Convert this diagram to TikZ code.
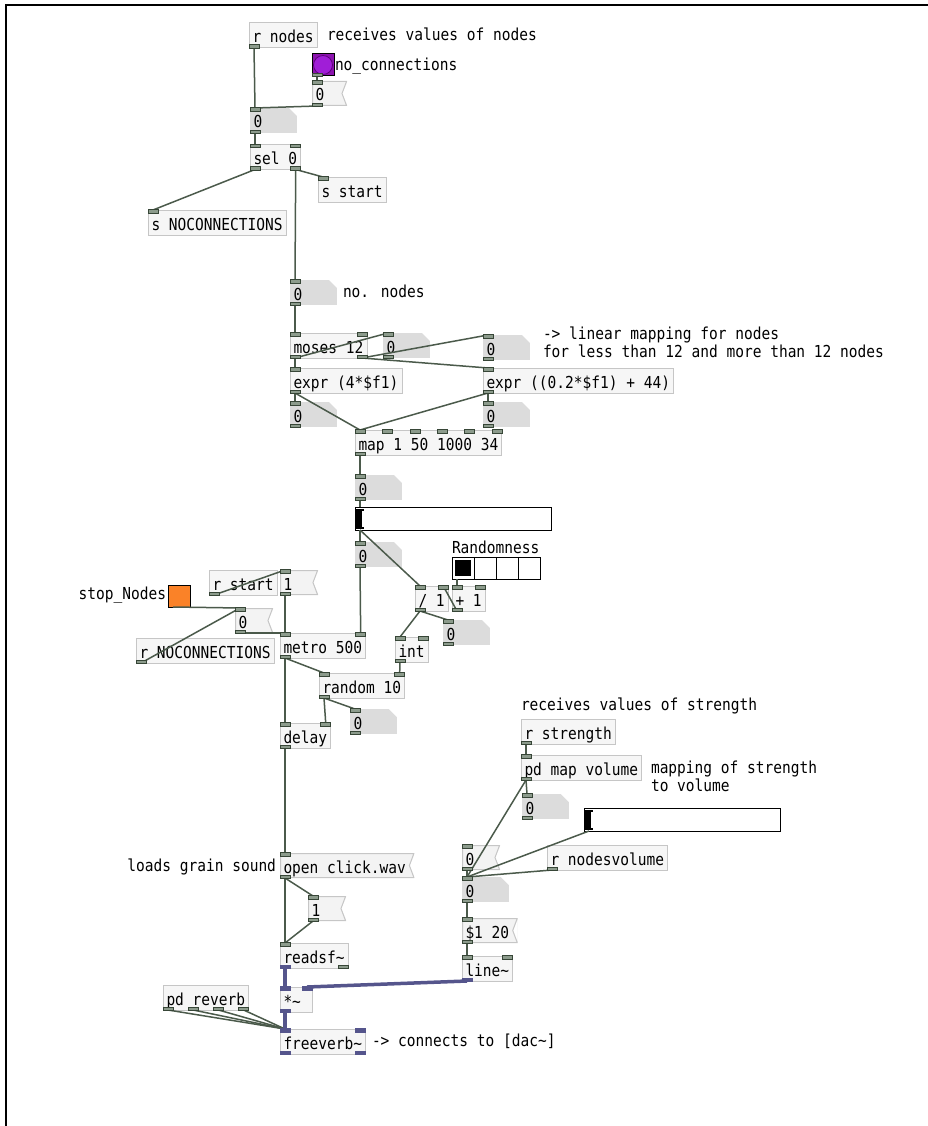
\documentclass[tikz,border=0pt]{standalone}
\usepackage{fontspec}
\newfontfamily\pdfont[FakeStretch=0.88]{DejaVu Sans Mono}
\newcommand{\pdsize}{\pdfont\fontsize{16.5pt}{18pt}\selectfont}
\definecolor{objfill}{RGB}{246,246,246}
\definecolor{objline}{RGB}{198,198,198}
\definecolor{msgfill}{RGB}{243,243,243}
\definecolor{atomfill}{RGB}{220,220,220}
\definecolor{portline}{RGB}{55,70,55}
\definecolor{portfill}{RGB}{140,155,140}
\definecolor{wireline}{RGB}{75,90,75}
\definecolor{sigline}{RGB}{85,85,140}
\definecolor{bngfill}{RGB}{140,20,175}
\definecolor{bngdot}{RGB}{160,30,215}
\definecolor{bngring}{RGB}{95,0,125}
\definecolor{stoporange}{RGB}{250,130,40}

\begin{document}
\begin{tikzpicture}[x=1pt,y=-1pt,
    obj/.style={draw=objline,fill=objfill,line width=0.8pt,inner xsep=3.5pt,inner ysep=0pt,outer sep=0pt,
      text height=20pt,text depth=5pt,anchor=north west,font=\pdsize},
    msg/.style={obj,draw=none,fill=msgfill,align=left,execute at end node={\hspace*{5pt}},
      path picture={
        \fill[white] ([xshift=1pt]path picture bounding box.north east) -- ([xshift=-5pt]path picture bounding box.east)
          -- ([xshift=1pt]path picture bounding box.south east) -- cycle;
        \draw[objline,line width=1pt] ([shift={(0.5pt,-0.5pt)}]path picture bounding box.north west)
          -- ([shift={(-0.5pt,-0.5pt)}]path picture bounding box.north east) -- ([xshift=-5pt]path picture bounding box.east)
          -- ([shift={(-0.5pt,0.5pt)}]path picture bounding box.south east)
          -- ([shift={(0.5pt,0.5pt)}]path picture bounding box.south west) -- cycle;}},
    atom/.style={obj,draw=none,fill=atomfill,text width=40pt,align=left,
      path picture={
        \fill[white] ([xshift=-8pt]path picture bounding box.north east) -- ([shift={(1pt,1pt)}]path picture bounding box.north east)
          -- ([yshift=-8pt]path picture bounding box.north east) -- cycle;}},
    note/.style={inner sep=0pt,outer sep=0pt,anchor=base west,font=\pdsize},
    bangbox/.style={draw=black,line width=1pt,minimum size=22pt,inner sep=0pt,outer sep=0pt,anchor=north west},
    hsl/.style={draw=black,fill=white,line width=1pt,minimum width=196pt,minimum height=23pt,inner sep=0pt,outer sep=0pt,anchor=north west,
      path picture={
        \fill[black] ([shift={(1pt,-1.5pt)}]path picture bounding box.north west) rectangle ([shift={(6.5pt,1.5pt)}]path picture bounding box.south west);
        \fill[black] ([shift={(1pt,-1.5pt)}]path picture bounding box.north west) rectangle ([shift={(9pt,-3.5pt)}]path picture bounding box.north west);
        \fill[black] ([shift={(1pt,1.5pt)}]path picture bounding box.south west) rectangle ([shift={(9pt,3.5pt)}]path picture bounding box.south west);}},
    radio/.style={draw=black,fill=white,line width=1pt,minimum width=88pt,minimum height=22pt,inner sep=0pt,outer sep=0pt,anchor=north west,
      path picture={
        \foreach \k in {22,44,66}
          \draw[black,line width=1pt] ([xshift=\k pt]path picture bounding box.north west) -- ([xshift=\k pt]path picture bounding box.south west);
        \fill[black] ([shift={(3pt,-3pt)}]path picture bounding box.north west) rectangle ([shift={(19pt,3pt)}]path picture bounding box.south west);}},
    port/.style={draw=portline,fill=portfill,line width=0.6pt},
    sigport/.style={draw=sigline,fill=sigline,line width=0.6pt},
    wire/.style={draw=wireline,line width=1.5pt},
    sigwire/.style={draw=sigline,line width=3.5pt}
  ]
  \useasboundingbox (0,0) rectangle (928,1126);
  \draw[line width=2pt] (6,1126) -- (6,5) -- (928,5);

  % nodes count
  \node[obj] (rnodes) at (249,22.5) {r nodes};
  \node[note] (cmtnodes) at (327,41) {receives values of nodes};
  \node[bangbox,fill=bngfill,path picture={\draw[bngring,fill=bngdot,line width=0.8pt] (path picture bounding box.center) circle (9.5pt);}] (bngnc) at (312,54) {};
  \node[note] (cmtnoconn) at (335,71) {no\_connections};
  \node[msg,text width=28pt] (msgzero) at (312,81) {0};
  \node[atom] (numnodes) at (250,108) {0};
  \node[obj] (sel) at (250,144.5) {sel 0};
  \node[obj] (sstart) at (318,177) {s start};
  \node[obj] (snocon) at (148,210) {s NOCONNECTIONS};
  \node[atom] (numcount) at (290,280) {0};
  \node[note] (cmtcount) at (343,297) {no. nodes};

  % linear mapping
  \node[obj] (moses) at (290,333) {moses 12};
  \node[atom] (nummid) at (383,333) {0};
  \node[atom] (numright) at (483,335) {0};
  \node[note,align=left] (cmtlinear) at (543,357) {-> linear mapping for nodes\\for less than 12 and more than 12 nodes};
  \node[obj] (exprlow) at (290,368) {expr (4*\$f1)};
  \node[obj] (exprhigh) at (483,368) {expr ((0.2*\$f1) + 44)};
  \node[atom] (numlow) at (290,402) {0};
  \node[atom] (numhigh) at (483,402) {0};
  \node[obj] (map) at (355,430) {map 1 50 1000 34};
  \node[atom] (nummap) at (355,475) {0};
  \node[hsl] (slidenodes) at (355,507) {};
  \node[atom] (numslide) at (355,542) {0};

  % randomness
  \node[note] (cmtrandom) at (452,553) {Randomness};
  \node[radio] (radio) at (452,557) {};
  \node[obj] (div) at (415,586) {/ 1};
  \node[obj] (plusone) at (452,586) {+ 1};
  \node[atom] (numdiv) at (443,620) {0};
  \node[obj] (int) at (395,637) {int};

  % metro and start/stop
  \node[obj] (rstart) at (209,570) {r start};
  \node[msg,text width=31pt] (msgone) at (280,570) {1};
  \node[bangbox,fill=stoporange] (bngstop) at (168,585) {};
  \node[note,anchor=base east] (cmtstop) at (166,599) {stop\_Nodes};
  \node[msg,text width=31pt] (msgstop) at (235,608) {0};
  \node[obj] (rnocon) at (136,638) {r NOCONNECTIONS};
  \node[obj] (metro) at (280,633) {metro 500};
  \node[obj] (random) at (319,673) {random 10};
  \node[atom] (numrand) at (350,709) {0};
  \node[obj] (delay) at (280,723) {delay};

  % sound file
  \node[note,anchor=base east] (cmtgrain) at (276,871) {loads grain sound};
  \node[msg] (openwav) at (280,853) {open click.wav};
  \node[msg,text width=31pt] (msgplay) at (308,896) {1};
  \node[obj] (readsf) at (280,943) {readsf\textasciitilde};
  \node[obj,text width=25pt,align=left] (mult) at (280,987) {*\textasciitilde};
  \node[obj] (reverb) at (163,985) {pd reverb};
  \node[obj] (freeverb) at (280,1029) {freeverb\textasciitilde};
  \node[note] (cmtdac) at (372,1046) {-> connects to [dac\textasciitilde]};

  % strength to volume
  \node[note] (cmtstrength) at (521,710) {receives values of strength};
  \node[obj] (rstrength) at (521,719) {r strength};
  \node[obj] (mapvol) at (521,755) {pd map volume};
  \node[note,align=left] (cmtvolume) at (651,791) {mapping of strength\\to volume};
  \node[atom] (numvol) at (522,794) {0};
  \node[hsl] (slidevol) at (584,808) {};
  \node[msg,text width=31pt] (msgvol) at (462,845) {0};
  \node[obj] (rnodesvol) at (547,845) {r nodesvolume};
  \node[atom] (numamp) at (462,877) {0};
  \node[msg] (msgramp) at (462,918) {\$1 20};
  \node[obj] (line) at (462,956) {line\textasciitilde};

  % control wires
  \draw[wire] ([xshift=5pt]rnodes.south west) -- ([xshift=5pt]numnodes.north west);
  \draw[wire] ([xshift=5pt]bngnc.south west) -- ([xshift=5pt]msgzero.north west);
  \draw[wire] ([xshift=5pt]msgzero.south west) -- ([xshift=5pt]numnodes.north west);
  \draw[wire] ([xshift=5pt]numnodes.south west) -- ([xshift=5pt]sel.north west);
  \draw[wire] ([xshift=5pt]sel.south west) -- ([xshift=5pt]snocon.north west);
  \draw[wire] ([xshift=-5pt]sel.south east) -- ([xshift=5pt]sstart.north west);
  \draw[wire] ([xshift=-5pt]sel.south east) -- ([xshift=5pt]numcount.north west);
  \draw[wire] ([xshift=5pt]numcount.south west) -- ([xshift=5pt]moses.north west);
  \draw[wire] ([xshift=5pt]moses.south west) -- ([xshift=5pt]nummid.north west);
  \draw[wire] ([xshift=5pt]moses.south west) -- ([xshift=5pt]exprlow.north west);
  \draw[wire] ([xshift=-5pt]moses.south east) -- ([xshift=5pt]numright.north west);
  \draw[wire] ([xshift=-5pt]moses.south east) -- ([xshift=5pt]exprhigh.north west);
  \draw[wire] ([xshift=5pt]exprlow.south west) -- ([xshift=5pt]numlow.north west);
  \draw[wire] ([xshift=5pt]exprlow.south west) -- ([xshift=5pt]map.north west);
  \draw[wire] ([xshift=5pt]exprhigh.south west) -- ([xshift=5pt]numhigh.north west);
  \draw[wire] ([xshift=5pt]exprhigh.south west) -- ([xshift=5pt]map.north west);
  \draw[wire] ([xshift=5pt]map.south west) -- ([xshift=5pt]nummap.north west);
  \draw[wire] ([xshift=5pt]nummap.south west) -- ([xshift=5pt]slidenodes.north west);
  \draw[wire] ([xshift=5pt]slidenodes.south west) -- ([xshift=5pt]numslide.north west);
  \draw[wire] ([xshift=5pt]slidenodes.south west) -- ([xshift=5pt]div.north west);
  \draw[wire] ([xshift=5pt]numslide.south west) -- ([xshift=-5pt]metro.north east);
  \draw[wire] ([xshift=5pt]radio.south west) -- ([xshift=5pt]plusone.north west);
  \draw[wire] ([xshift=5pt]plusone.south west) -- ([xshift=-5pt]div.north east);
  \draw[wire] ([xshift=5pt]div.south west) -- ([xshift=5pt]numdiv.north west);
  \draw[wire] ([xshift=5pt]div.south west) -- ([xshift=5pt]int.north west);
  \draw[wire] ([xshift=5pt]int.south west) -- ([xshift=-5pt]random.north east);
  \draw[wire] ([xshift=5pt]rstart.south west) -- ([xshift=5pt]msgone.north west);
  \draw[wire] ([xshift=5pt]msgone.south west) -- ([xshift=5pt]metro.north west);
  \draw[wire] ([xshift=5pt]bngstop.south west) -- ([xshift=5pt]msgstop.north west);
  \draw[wire] ([xshift=5pt]rnocon.south west) -- ([xshift=5pt]msgstop.north west);
  \draw[wire] ([xshift=5pt]msgstop.south west) -- ([xshift=5pt]metro.north west);
  \draw[wire] ([xshift=5pt]metro.south west) -- ([xshift=5pt]random.north west);
  \draw[wire] ([xshift=5pt]metro.south west) -- ([xshift=5pt]delay.north west);
  \draw[wire] ([xshift=5pt]random.south west) -- ([xshift=5pt]numrand.north west);
  \draw[wire] ([xshift=5pt]random.south west) -- ([xshift=-5pt]delay.north east);
  \draw[wire] ([xshift=5pt]delay.south west) -- ([xshift=5pt]openwav.north west);
  \draw[wire] ([xshift=5pt]openwav.south west) -- ([xshift=5pt]msgplay.north west);
  \draw[wire] ([xshift=5pt]openwav.south west) -- ([xshift=5pt]readsf.north west);
  \draw[wire] ([xshift=5pt]msgplay.south west) -- ([xshift=5pt]readsf.north west);
  \draw[wire] ([xshift=5pt]reverb.south west) -- ([xshift=5pt]freeverb.north west);
  \draw[wire] ([xshift=30.25pt]reverb.south west) -- ([xshift=5pt]freeverb.north west);
  \draw[wire] ([xshift=55.5pt]reverb.south west) -- ([xshift=5pt]freeverb.north west);
  \draw[wire] ([xshift=-5pt]reverb.south east) -- ([xshift=5pt]freeverb.north west);
  \draw[wire] ([xshift=5pt]rstrength.south west) -- ([xshift=5pt]mapvol.north west);
  \draw[wire] ([xshift=5pt]mapvol.south west) -- ([xshift=5pt]numvol.north west);
  \draw[wire] ([xshift=5pt]mapvol.south west) -- ([xshift=5pt]numamp.north west);
  \draw[wire] ([xshift=5pt]slidevol.south west) -- ([xshift=5pt]numamp.north west);
  \draw[wire] ([xshift=5pt]rnodesvol.south west) -- ([xshift=5pt]numamp.north west);
  \draw[wire] ([xshift=5pt]msgvol.south west) -- ([xshift=5pt]numamp.north west);
  \draw[wire] ([xshift=5pt]numamp.south west) -- ([xshift=5pt]msgramp.north west);
  \draw[wire] ([xshift=5pt]msgramp.south west) -- ([xshift=5pt]line.north west);

  % signal wires
  \draw[sigwire] ([xshift=5pt]readsf.south west) -- ([xshift=5pt]mult.north west);
  \draw[sigwire] ([xshift=5pt]line.south west) -- ([xshift=-5pt]mult.north east);
  \draw[sigwire] ([xshift=5pt]mult.south west) -- ([xshift=5pt]freeverb.north west);

  % inlets and outlets
  \foreach \n in {msgzero,numnodes,sel,sstart,snocon,numcount,moses,nummid,numright,exprlow,exprhigh,numlow,numhigh,map,
      nummap,numslide,div,plusone,numdiv,int,metro,random,numrand,delay,msgone,msgstop,openwav,msgplay,readsf,
      mapvol,numvol,msgvol,numamp,msgramp,line}
    \draw[port] ([yshift=0.5pt]\n.north west) rectangle ([xshift=10pt,yshift=-3pt]\n.north west);
  \foreach \n in {sel,moses,map,div,plusone,int,metro,random,delay,line}
    \draw[port] ([xshift=-10pt,yshift=0.5pt]\n.north east) rectangle ([yshift=-3pt]\n.north east);
  \foreach \n in {rnodes,bngnc,msgzero,numnodes,sel,numcount,moses,nummid,numright,exprlow,exprhigh,numlow,numhigh,map,
      nummap,numslide,div,plusone,numdiv,int,metro,random,numrand,delay,rstart,msgone,msgstop,rnocon,openwav,msgplay,
      reverb,rstrength,mapvol,numvol,msgvol,rnodesvol,numamp,msgramp}
    \draw[port] ([yshift=-0.5pt]\n.south west) rectangle ([xshift=10pt,yshift=3pt]\n.south west);
  \foreach \n in {sel,moses,readsf,reverb}
    \draw[port] ([xshift=-10pt,yshift=-0.5pt]\n.south east) rectangle ([yshift=3pt]\n.south east);
  \foreach \dx in {27.4,54.8,82.2,109.6}
    \draw[port] ([xshift=\dx pt,yshift=0.5pt]map.north west) rectangle ([xshift=\dx pt+10pt,yshift=-3pt]map.north west);
  \foreach \dx in {25.25,50.5}
    \draw[port] ([xshift=\dx pt,yshift=-0.5pt]reverb.south west) rectangle ([xshift=\dx pt+10pt,yshift=3pt]reverb.south west);
  \foreach \n in {mult,freeverb}
    \draw[sigport] ([yshift=0.5pt]\n.north west) rectangle ([xshift=10pt,yshift=-3pt]\n.north west);
  \foreach \n in {mult,freeverb}
    \draw[sigport] ([xshift=-10pt,yshift=0.5pt]\n.north east) rectangle ([yshift=-3pt]\n.north east);
  \foreach \n in {readsf,mult,freeverb,line}
    \draw[sigport] ([yshift=-0.5pt]\n.south west) rectangle ([xshift=10pt,yshift=3pt]\n.south west);
  \draw[sigport] ([xshift=-10pt,yshift=-0.5pt]freeverb.south east) rectangle ([yshift=3pt]freeverb.south east);
\end{tikzpicture}
\end{document}
